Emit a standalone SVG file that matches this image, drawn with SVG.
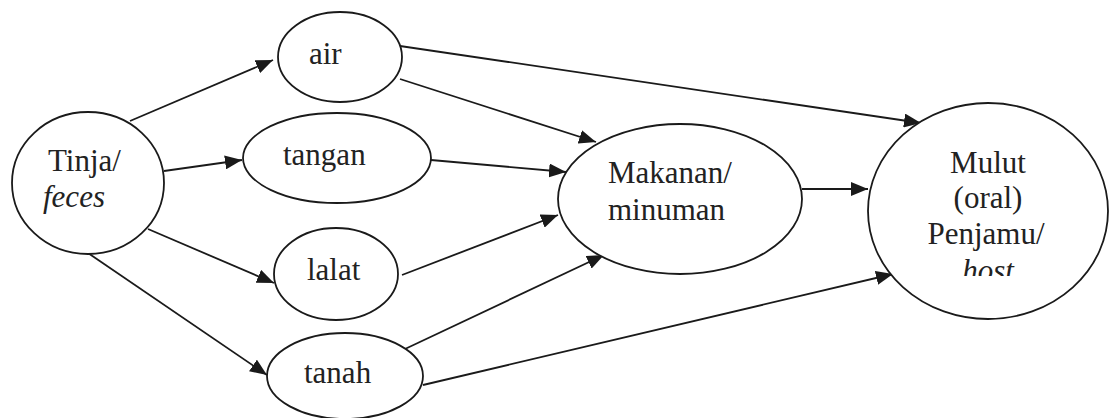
<svg xmlns="http://www.w3.org/2000/svg" width="1109" height="418" viewBox="0 0 1109 418">
<style>
.n{fill:#fff;stroke:#1a1a1a;stroke-width:1.8}
.t{font-family:'Liberation Serif','DejaVu Serif','Times New Roman',serif;font-size:31px;fill:#222}
.i{font-style:italic}
.c line{stroke:#1a1a1a;stroke-width:1.8}
</style>
<defs>
<marker id="ah" markerUnits="userSpaceOnUse" markerWidth="18" markerHeight="14" refX="17" refY="7" orient="auto">
<path d="M0,0 L17,7 L0,14 Z" fill="#1a1a1a"/>
</marker>
<clipPath id="hostclip"><rect x="900" y="250" width="160" height="26"/></clipPath>
</defs>
<rect width="1109" height="418" fill="#fff"/>
<g id="connectors" class="c">
<line x1="130" y1="121" x2="273" y2="60" marker-end="url(#ah)"/>
<line x1="164" y1="171" x2="242" y2="160" marker-end="url(#ah)"/>
<line x1="148" y1="229" x2="274" y2="283" marker-end="url(#ah)"/>
<line x1="88" y1="253" x2="267" y2="375" marker-end="url(#ah)"/>
<line x1="400" y1="46" x2="921" y2="123" marker-end="url(#ah)"/>
<line x1="400" y1="79" x2="596" y2="142" marker-end="url(#ah)"/>
<line x1="431" y1="160" x2="566" y2="172" marker-end="url(#ah)"/>
<line x1="402" y1="275" x2="558" y2="215" marker-end="url(#ah)"/>
<line x1="405" y1="349" x2="604" y2="255" marker-end="url(#ah)"/>
<line x1="423" y1="385" x2="893" y2="274" marker-end="url(#ah)"/>
<line x1="802" y1="189" x2="868" y2="189" marker-end="url(#ah)"/>
</g>
<g id="tinja">
<ellipse class="n" cx="88" cy="183" rx="76" ry="71"/>
<text class="t" x="48" y="171" font-family="Liberation Serif, serif">Tinja/</text>
<text class="t i" x="43" y="207" font-family="Liberation Serif, serif">feces</text>
</g>
<g id="air">
<ellipse class="n" cx="340" cy="57" rx="62" ry="45"/>
<text class="t" x="309" y="64">air</text>
</g>
<g id="tangan">
<ellipse class="n" cx="337" cy="158" rx="94" ry="45"/>
<text class="t" x="283" y="165">tangan</text>
</g>
<g id="lalat">
<ellipse class="n" cx="336" cy="274" rx="62" ry="46"/>
<text class="t" x="307" y="280">lalat</text>
</g>
<g id="tanah">
<ellipse class="n" cx="345" cy="376" rx="78" ry="43"/>
<text class="t" x="304" y="383">tanah</text>
</g>
<g id="makanan">
<ellipse class="n" cx="680" cy="199" rx="122" ry="75"/>
<text class="t" x="608" y="183">Makanan/</text>
<text class="t" x="608" y="220">minuman</text>
</g>
<g id="mulut">
<ellipse class="n" cx="988" cy="211" rx="120" ry="108"/>
<text class="t" x="988" y="173" text-anchor="middle">Mulut</text>
<text class="t" x="988" y="208" text-anchor="middle">(oral)</text>
<text class="t" x="986" y="244" text-anchor="middle">Penjamu/</text>
<text class="t i" x="988" y="281" text-anchor="middle" clip-path="url(#hostclip)">host</text>
</g>
</svg>
